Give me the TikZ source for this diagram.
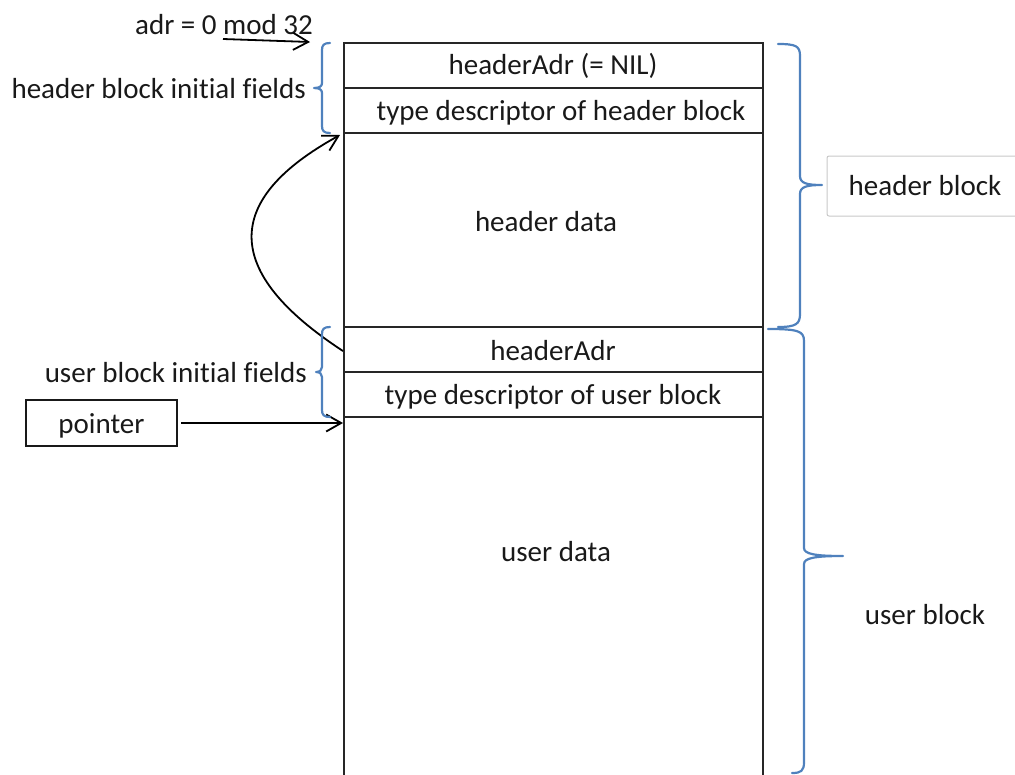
\documentclass[tikz,border=0pt]{standalone}
\usepackage{fontspec}
\setmainfont[Ligatures=NoCommon]{Carlito}
\usetikzlibrary{arrows.meta}
\definecolor{braceblue}{RGB}{79,129,189}
\definecolor{boxgrey}{RGB}{200,200,200}
\begin{document}
\begin{tikzpicture}[x=1pt,y=-1pt,
  every node/.style={font=\fontsize{29}{34}\selectfont, inner sep=0pt, text=black!90},
  frame/.style={line width=2.6pt, draw=black!85},
  sep/.style={line width=1.6pt, draw=black!85},
  brace/.style={line width=2.2pt, draw=braceblue, line cap=round, line join=round},
  arr/.style={line width=1.8pt, -{Straight Barb[length=15pt,width=17pt,line width=1.8pt]}},
  ptrbox/.style={draw=black!90, line width=2.2pt, minimum width=151pt, minimum height=46pt, text height=26pt, text depth=6pt},
  greybox/.style={draw=boxgrey, line width=1pt, rounded corners=2pt, minimum width=196pt, minimum height=60pt}]
\useasboundingbox (0,0) rectangle (1015,774);
% memory block
\draw[frame] (344,790) -- (344,43) -- (763,43) -- (763,790);
\draw[sep] (344,88) -- (763,88);
\draw[sep] (344,133) -- (763,133);
\draw[sep] (344,327) -- (763,327);
\draw[sep] (344,372) -- (763,372);
\draw[sep] (344,417) -- (763,417);
% cell texts
\node (hadr) at (553,66) {headerAdr (= NIL)};
\node (htd) at (561,113) {type descriptor of header block};
\node (hdata) at (546,222) {header data};
\node (uadr) at (553,351) {headerAdr};
\node (utd) at (553,397) {type descriptor of user block};
\node (udata) at (556,552) {user data};
% left labels
\node[anchor=east] (hinit) at (306,89) {header block initial fields};
\node[anchor=east] (uinit) at (307,373) {user block initial fields};
\node (adr) at (224,25) {adr = 0 mod 32};
\node[ptrbox] (ptr) at (101.5,423) {pointer};
% right labels
\node[greybox] (hb) at (925,186) {header block};
\node (ub) at (925,615) {user block};
% arrows
\coordinate (adrs) at (223,39);
\coordinate (adre) at (310,42);
\draw[arr] (adrs) -- (adre);
\coordinate (ptrend) at (343,423);
\draw[arr, shorten <=3pt] (ptr.east) -- (ptrend);
\coordinate (cs) at (343,351);
\coordinate (ce) at (340,135);
\draw[arr] (cs) .. controls (222,272) and (222,200) .. (ce);
% braces
\draw[brace] (330,43) .. controls (324,43) and (322,45) .. (322,50) -- (322,83) .. controls (322,86) and (320,88) .. (314,88) .. controls (320,88) and (322,90) .. (322,93) -- (322,126) .. controls (322,131) and (324,133) .. (330,133);
\draw[brace] (330,327) .. controls (324,327) and (322,329) .. (322,334) -- (322,367) .. controls (322,370) and (320,372) .. (316,372) .. controls (320,372) and (322,374) .. (322,377) -- (322,410) .. controls (322,415) and (324,417) .. (330,417);
\draw[brace] (778,44) .. controls (796,44) and (800,46) .. (800,56) -- (800,176) .. controls (800,183) and (806,185) .. (822,185) .. controls (806,185) and (800,187) .. (800,194) -- (800,314) .. controls (800,324) and (796,327) .. (778,327);
\draw[brace] (768,329) .. controls (798,329) and (804,331) .. (804,341) -- (804,548) .. controls (804,554) and (815,556) .. (843,556) .. controls (815,556) and (804,558) .. (804,564) -- (804,762) .. controls (804,771) and (801,773) .. (792,773);
\end{tikzpicture}
\end{document}
